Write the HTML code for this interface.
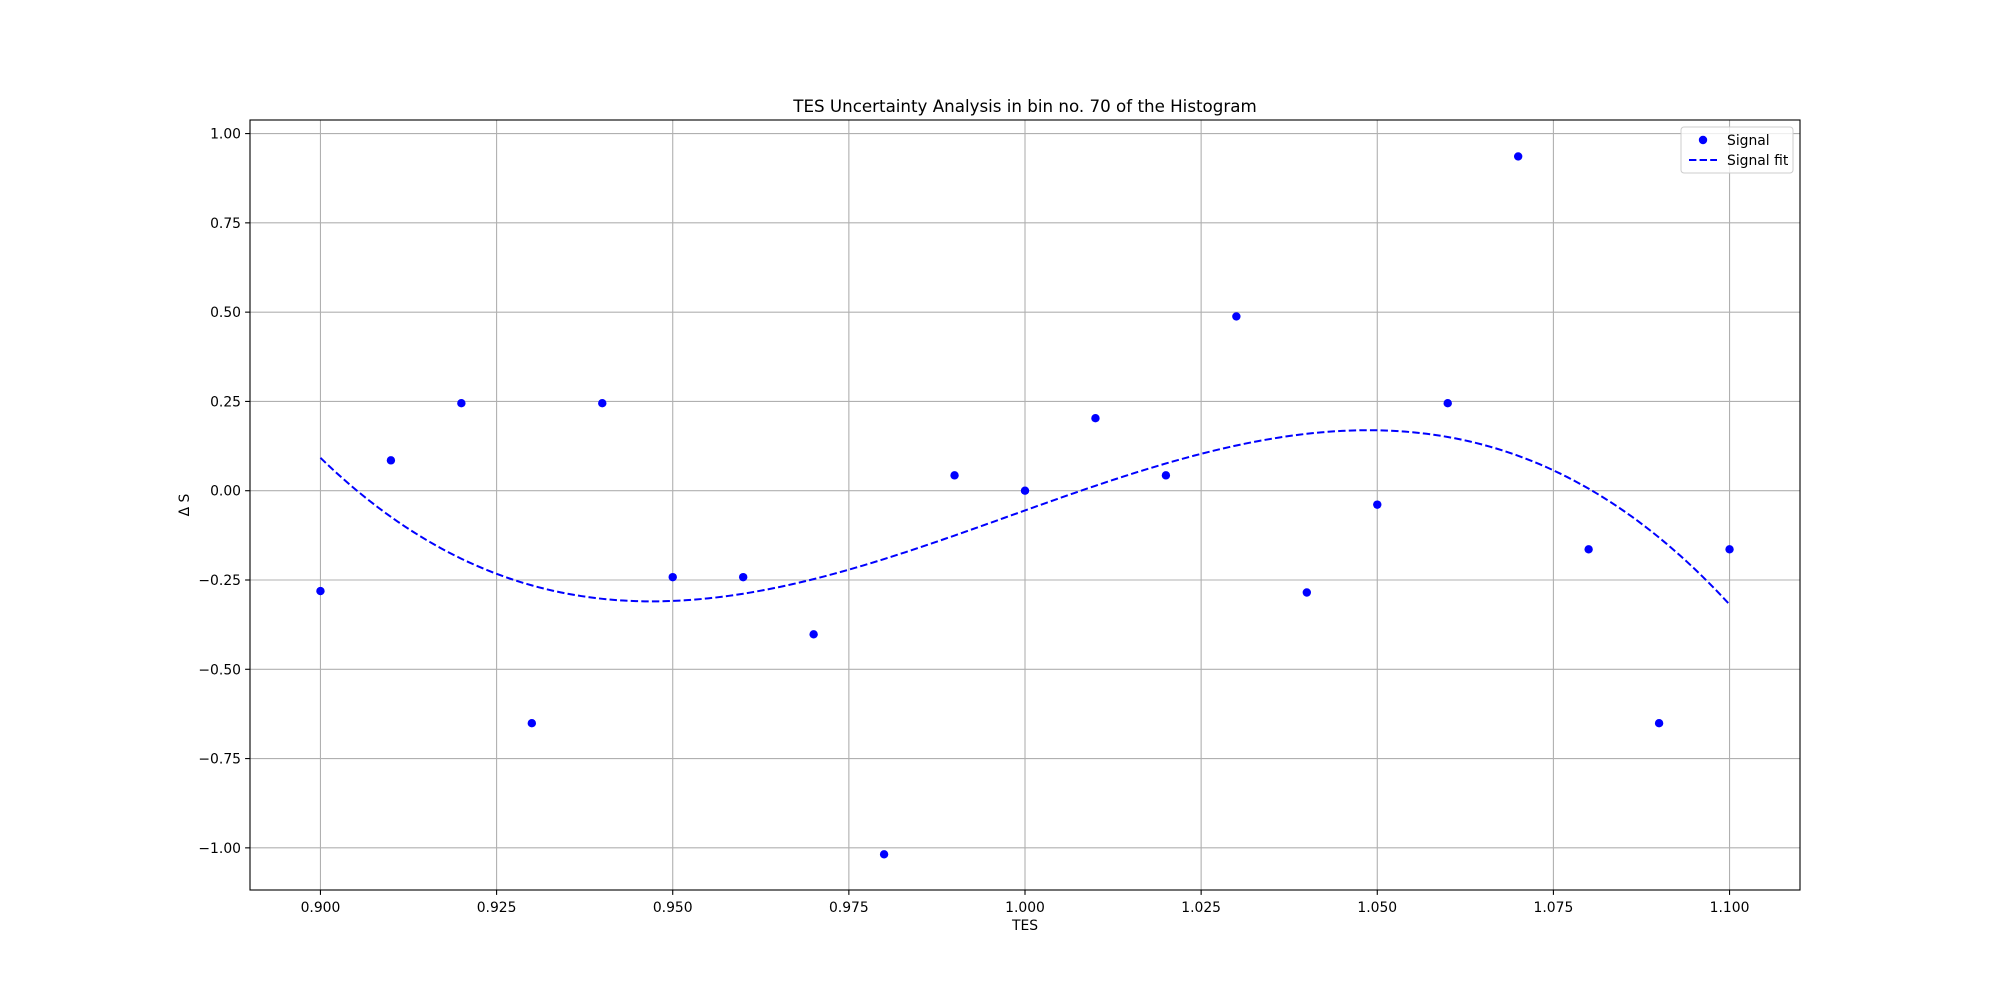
<!DOCTYPE html>
<html><head><meta charset="utf-8"><style>
body{margin:0;background:#fff}
svg text{font-family:"DejaVu Sans","Liberation Sans",sans-serif;fill:#000}
</style></head><body>
<svg id="chart" width="2000" height="1000" xmlns="http://www.w3.org/2000/svg">
<rect width="2000" height="1000" fill="#fff"/>
<g id="grid"></g><g id="fit"></g><g id="pts"></g><g id="axes"></g>
<text x="1025" y="112" font-size="16.7" text-anchor="middle">TES Uncertainty Analysis in bin no. 70 of the Histogram</text>
<text x="1025" y="930" font-size="13.9" text-anchor="middle">TES</text>
<text transform="translate(189,505) rotate(-90)" font-size="13.9" text-anchor="middle">Δ S</text>
<g>
<rect x="1681" y="127" width="112" height="46" rx="3" fill="#fff" fill-opacity="0.8" stroke="#ccc"/>
<circle cx="1703" cy="140" r="4.2" fill="#0000ff"/>
<text x="1727" y="145" font-size="13.9">Signal</text>
<line x1="1689" y1="160" x2="1717" y2="160" stroke="#0000ff" stroke-width="2" stroke-dasharray="7.4,3.2"/>
<text x="1727" y="165" font-size="13.9">Signal fit</text>
</g>
</svg>
<script>
const xValues=[0.90,0.91,0.92,0.93,0.94,0.95,0.96,0.97,0.98,0.99,1.00,1.01,1.02,1.03,1.04,1.05,1.06,1.07,1.08,1.09,1.10];
const yValues=[-0.281,0.085,0.245,-0.651,0.245,-0.242,-0.242,-0.402,-1.018,0.043,0,0.203,0.043,0.488,-0.285,-0.039,0.245,0.936,-0.164,-0.651,-0.164];
const xTicks=[0.900,0.925,0.950,0.975,1.000,1.025,1.050,1.075,1.100];
const yTicks=[-1.00,-0.75,-0.50,-0.25,0.00,0.25,0.50,0.75,1.00];
const L=250,R=1800,T=120,B=890;
const x0=0.89,x1=1.11,y0=-1.118,y1=1.038;
const sx=v=>L+(v-x0)/(x1-x0)*(R-L);
const sy=v=>B-(v-y0)/(y1-y0)*(B-T);
const NS="http://www.w3.org/2000/svg";
function mk(p,t,a){const e=document.createElementNS(NS,t);for(const k in a)e.setAttribute(k,a[k]);p.appendChild(e);return e;}
const grid=document.getElementById('grid'),axes=document.getElementById('axes');
xTicks.forEach(v=>{const X=sx(v);
 const g=mk(grid,'line',{x1:X,x2:X,y1:T,y2:B,stroke:'#b0b0b0','stroke-width':1.1});
 
 
 mk(axes,'line',{x1:X,x2:X,y1:B,y2:B+4.9,stroke:'#000','stroke-width':1.1});
 const t=mk(axes,'text',{x:X,y:B+22,'font-size':13.9,'text-anchor':'middle'});t.textContent=v.toFixed(3);
 
 
});
yTicks.forEach(v=>{const Y=sy(v);
 const g=mk(grid,'line',{x1:L,x2:R,y1:Y,y2:Y,stroke:'#b0b0b0','stroke-width':1.1});
 
 
 mk(axes,'line',{x1:L-4.9,x2:L,y1:Y,y2:Y,stroke:'#000','stroke-width':1.1});
 const t=mk(axes,'text',{x:L-9,y:Y+5,'font-size':13.9,'text-anchor':'end'});t.textContent=v.toFixed(2).replace('-','\u2212');
 
 
});
const fr=mk(axes,'rect',{x:L,y:T,width:R-L,height:B-T,fill:'none',stroke:'#000','stroke-width':1.1});


const n=4,A=[...Array(n)].map(()=>Array(n+1).fill(0));
xValues.forEach((x,i)=>{const t=x-1;for(let r=0;r<n;r++){for(let c=0;c<n;c++)A[r][c]+=Math.pow(t,r+c);A[r][n]+=Math.pow(t,r)*yValues[i];}});
for(let i=0;i<n;i++){for(let j=i+1;j<n;j++){const f=A[j][i]/A[i][i];for(let k=i;k<=n;k++)A[j][k]-=f*A[i][k];}}
const co=Array(n).fill(0);for(let i=n-1;i>=0;i--){let s=A[i][n];for(let k=i+1;k<n;k++)s-=A[i][k]*co[k];co[i]=s/A[i][i];}
const fx=x=>{const t=x-1;return co[0]+co[1]*t+co[2]*t*t+co[3]*t*t*t;};
let d='';const xa=xValues[0],xb=xValues[xValues.length-1];
for(let i=0;i<=200;i++){const x=xa+(xb-xa)*i/200;d+=(i?'L':'M')+sx(x).toFixed(2)+','+sy(fx(x)).toFixed(2);}
const fl=mk(document.getElementById('fit'),'path',{d:d,fill:'none',stroke:'#0000ff','stroke-width':2,'stroke-dasharray':'7.4,3.2'});


const pts=document.getElementById('pts');
xValues.forEach((x,i)=>{const c=mk(pts,'circle',{cx:sx(x),cy:sy(yValues[i]),r:4.2,fill:'#0000ff'});
 
 
});
</script>
</body></html>
